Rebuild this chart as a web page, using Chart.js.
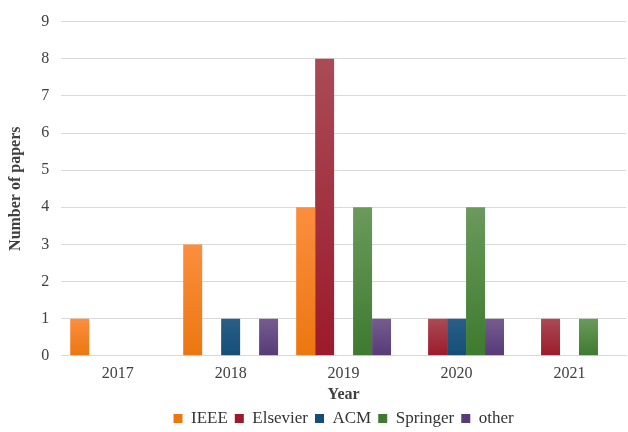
<!DOCTYPE html>
<html>
<head>
<meta charset="utf-8">
<script src="https://cdn.jsdelivr.net/npm/chart.js@4/dist/chart.umd.min.js"></script>
<style>
  html, body { margin: 0; padding: 0; background: #fff; }
  #wrap { width: 628px; height: 432px; }
</style>
</head>
<body>
<div id="wrap"><canvas id="papersChart" width="628" height="432"></canvas></div>
<script>
// Data
var years = ['2017', '2018', '2019', '2020', '2021'];
var ieee = [1, 3, 4, 0, 0];
var elsevier = [0, 0, 8, 1, 1];
var acm = [0, 1, 0, 1, 0];
var springer = [0, 0, 4, 4, 1];
var other = [0, 1, 1, 1, 0];

var serif = '"Liberation Serif", "Times New Roman", serif';

// lighter at the top of each bar, darker at the bottom
function barFill(top, bottom) {
    return function (context) {
        var chart = context.chart;
        if (!chart.chartArea) return bottom;
        var y = chart.scales.y;
        var yTop = y.getPixelForValue(context.raw);
        var yBot = y.getPixelForValue(0);
        if (!isFinite(yTop) || yBot - yTop < 1) return bottom;
        var g = chart.ctx.createLinearGradient(0, yTop, 0, yBot);
        g.addColorStop(0, top);
        g.addColorStop(1, bottom);
        return g;
    };
}

function series(label, data, top, bottom) {
    return {
        label: label,
        data: data,
        backgroundColor: barFill(top, bottom),
        borderWidth: 0,
        categoryPercentage: 0.84,
        barPercentage: 1.0
    };
}

var ctx = document.getElementById('papersChart').getContext('2d');
var papersChart = new Chart(ctx, {
    type: 'bar',
    data: {
        labels: years,
        datasets: [
            series('IEEE', ieee, '#fb8e3e', '#ec7710'),
            series('Elsevier', elsevier, '#a94b56', '#9c1a2b'),
            series('ACM', acm, '#2a5f86', '#144e78'),
            series('Springer', springer, '#6a9a5c', '#3e7a2f'),
            series('other', other, '#755c8f', '#573a78')
        ]
    },
    options: {
        responsive: false,
        animation: false,
        layout: { padding: { top: 5, right: 2, left: 6, bottom: -5 } },
        plugins: {
            legend: {
                position: 'bottom',
                fullSize: false,
                labels: {
                    boxWidth: 9,
                    boxHeight: 9,
                    padding: 7,
                    color: '#333333',
                    font: { family: serif, size: 17, lineHeight: 1.0 }
                }
            },
            tooltip: { enabled: false }
        },
        scales: {
            x: {
                grid: { display: false },
                border: { color: '#d9d9d9' },
                ticks: {
                    color: '#404040',
                    font: { family: serif, size: 16 },
                    padding: 0
                },
                title: {
                    display: true,
                    text: 'Year',
                    color: '#404040',
                    font: { family: serif, size: 16, weight: 'bold', lineHeight: 1.0 },
                    padding: { top: 4, bottom: 0 }
                }
            },
            y: {
                min: 0,
                max: 9,
                ticks: {
                    stepSize: 1,
                    color: '#404040',
                    font: { family: serif, size: 16 },
                    padding: 12
                },
                grid: { color: '#d9d9d9', drawTicks: false },
                border: { display: false },
                title: {
                    display: true,
                    text: 'Number of papers',
                    color: '#404040',
                    font: { family: serif, size: 16, weight: 'bold' },
                    padding: { top: 0, bottom: 4 }
                }
            }
        }
    }
});
</script>
</body>
</html>
